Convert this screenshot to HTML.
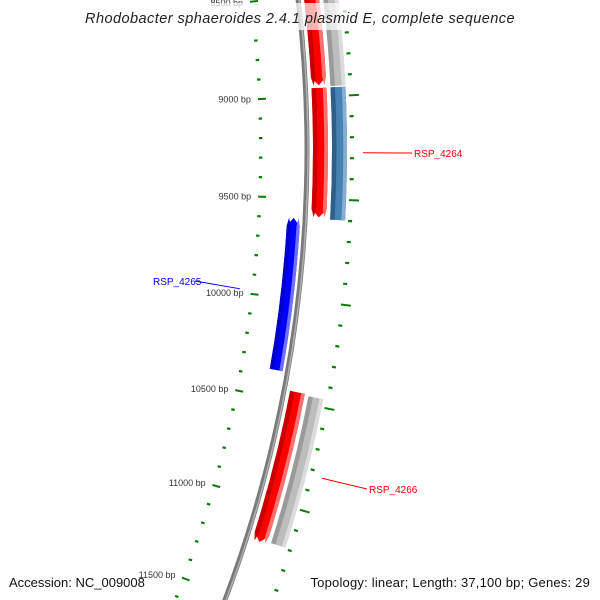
<!DOCTYPE html>
<html><head><meta charset="utf-8"><style>
html,body{margin:0;padding:0;background:#fff;width:600px;height:600px;overflow:hidden}
svg{display:block;overflow:hidden}
text{font-family:"Liberation Sans",sans-serif}
</style></head><body>
<svg id="map" width="600" height="600" viewBox="0 0 600 600" xmlns="http://www.w3.org/2000/svg">
<defs><clipPath id="clip"><rect x="0" y="0" width="600" height="600"/></clipPath></defs>
<g clip-path="url(#clip)">
<g id="ticks"></g>
<g id="backbone"></g>
<g id="features"></g>
<g id="labels"></g>
<rect x="0" y="3" width="600" height="27" fill="#fff" opacity="0.7"/>
<text x="300" y="23" text-anchor="middle" font-size="14.5" letter-spacing="0.45" font-style="italic" fill="#222">Rhodobacter sphaeroides 2.4.1 plasmid E, complete sequence</text>
<text x="9" y="587" font-size="13" fill="#111">Accession: NC_009008</text>
<text x="590" y="587" text-anchor="end" font-size="13" letter-spacing="0.2" fill="#111">Topology: linear; Length: 37,100 bp; Genes: 29</text>
</g>
</svg>
<script>
// feature data (bp)
const featNames = ['gene-a-fwd','gene-a-track2','rsp-4264','rsp-4264-track2','rsp-4265','rsp-4266','rsp-4266-track2'];
const featStart = [8300, 8300, 8958, 8958, 9599, 10451, 10460];
const featEnd   = [8945, 8951, 9590, 9598, 10362, 11205, 11193];
const featStrand= [1, 0, 1, 0, -1, 1, 0];
const featTrack = ['red','gray','red','steel','blue','red','gray'];
const labelText = ['RSP_4264','RSP_4265','RSP_4266'];
const labelFeat = [2, 4, 5];
const tickStart = 8000, tickEnd = 12000, tickStep = 100, majorStep = 500;

const CX=-968, CY=150, K=1.59e-4, BP0=9261;
const NS='http://www.w3.org/2000/svg';
function ang(bp){return (bp-BP0)*K;}
function pt(r,bp){const a=ang(bp);return [CX+r*Math.cos(a), CY+r*Math.sin(a)];}
function mk(tag,attrs,parent){const e=document.createElementNS(NS,tag);for(const k in attrs)e.setAttribute(k,attrs[k]);parent.appendChild(e);return e;}
function arcPath(r,b1,b2){const p1=pt(r,b1),p2=pt(r,b2);return `M${p1[0]},${p1[1]} A${r},${r} 0 0 1 ${p2[0]},${p2[1]}`;}

const tracks={red:{r1:1281,r2:1296,base:'#ff0000',dark:'#c80000',light:'#ff7070'},
 gray:{r1:1300,r2:1315,base:'#bdbdbd',dark:'#9a9a9a',light:'#dcdcdc'},
 steel:{r1:1300,r2:1315,base:'#4682b4',dark:'#2f5f88',light:'#86aed2'},
 blue:{r1:1257,r2:1270,base:'#0000ff',dark:'#0000c8',light:'#7070ff'}};

function featPath(r1,r2,b1,b2,strand){
  const head=8/((r1+r2)/2*K);
  let s=b1,e=b2;
  if(strand===1)e=Math.max(b1,b2-head);
  if(strand===-1)s=Math.min(b2,b1+head);
  const rm=(r1+r2)/2;
  const a=pt(r1,s),b=pt(r1,e),c=pt(r2,e),d=pt(r2,s);
  let p=`M${a[0]},${a[1]} A${r1},${r1} 0 0 1 ${b[0]},${b[1]} `;
  if(strand===1){const t=pt(rm,b2);p+=`L${t[0]},${t[1]} `;}
  p+=`L${c[0]},${c[1]} A${r2},${r2} 0 0 0 ${d[0]},${d[1]} `;
  if(strand===-1){const t=pt(rm,b1);p+=`L${t[0]},${t[1]} `;}
  return p+'Z';
}

// ticks
const tg=document.getElementById('ticks');
for(let bp=tickStart;bp<=tickEnd;bp+=tickStep){
  const major=bp%majorStep===0;
  [[1227,major?1235:1230.5],[1318,major?1328:1322]].forEach((rr,i)=>{
    const p1=pt(rr[0],bp),p2=pt(rr[1],bp);
    const l=mk('line',{x1:p1[0],y1:p1[1],x2:p2[0],y2:p2[1],stroke:'#0a7a0a','stroke-width':major?2:2.2},tg);
    
    
  });
  if(major){
    const p=pt(1220,bp);
    const t=mk('text',{x:p[0],y:p[1]+3,'text-anchor':'end','font-size':'9',fill:'#333'},tg);
    t.textContent=bp+' bp';
    
    
  }
}

// backbone
const bg=document.getElementById('backbone');
const bb1=mk('path',{d:arcPath(1275,7000,11900),fill:'none',stroke:'#7a7a7a','stroke-width':5},bg);


const bb2=mk('path',{d:arcPath(1276,7000,11900),fill:'none',stroke:'#b0b0b0','stroke-width':1.5},bg);



// features
const fg=document.getElementById('features');
featNames.forEach((n,i)=>{
  const tr=tracks[featTrack[i]];
  const g=mk('g',{},fg);
  
  
  mk('path',{d:featPath(tr.r1,tr.r2,featStart[i],featEnd[i],featStrand[i]),fill:tr.base},g);
  const w=tr.r2-tr.r1;
  const lp=mk('path',{d:featPath(tr.r2-w*0.25,tr.r2,featStart[i],featEnd[i],featStrand[i]),fill:tr.light},g);
  
  
  const dp=mk('path',{d:featPath(tr.r1,tr.r1+w*0.3,featStart[i],featEnd[i],featStrand[i]),fill:tr.dark},g);
  
  
});

// labels
const lg=document.getElementById('labels');
const labelPos=[[414,157,'start',1331],[153,285,'start',1216],[369,493,'start',1331]];
labelText.forEach((txt,i)=>{
  const f=labelFeat[i];
  const mid=(featStart[f]+featEnd[f])/2;
  const col=featTrack[f]==='blue'?'#0000ff':'#ff0000';
  const lp=labelPos[i];
  const p=pt(lp[3],mid);
  const lx= i===1 ? lp[0]+42 : lp[0]-2;
  const ln=mk('line',{x1:p[0],y1:p[1],x2:lx,y2:lp[1]-4,stroke:col,'stroke-width':1},lg);
  
  
  const t=mk('text',{x:lp[0],y:lp[1],'font-size':'10',fill:col,'text-anchor':lp[2]},lg);
  t.textContent=txt;
  
  
});
</script>
</body></html>
